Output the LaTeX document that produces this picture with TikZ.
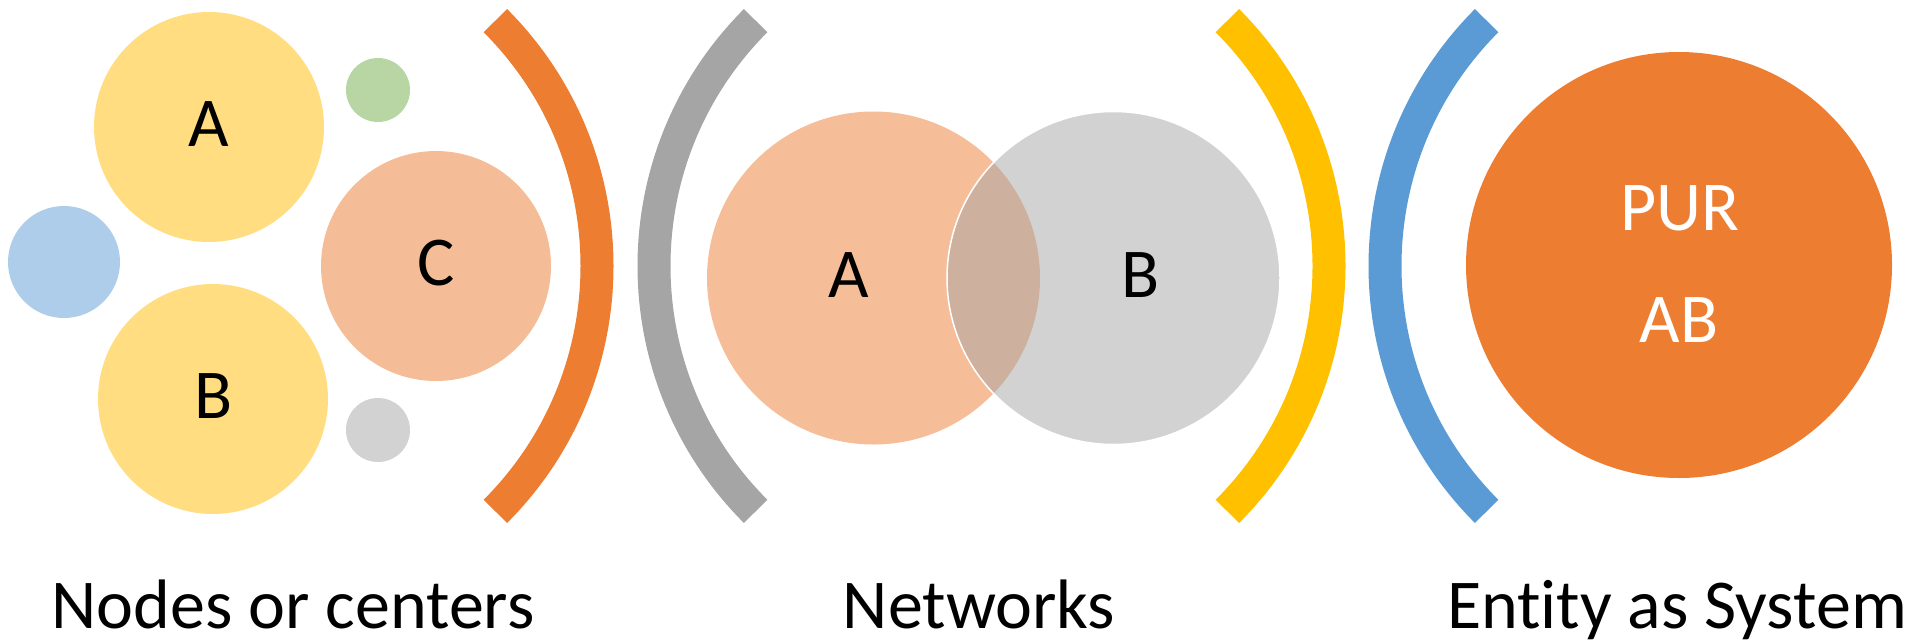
\documentclass[tikz,border=0pt]{standalone}
\usepackage{fontspec}
\setmainfont{Carlito}[Ligatures={NoCommon}]
\definecolor{orng}{HTML}{ED7D31}
\definecolor{gry}{HTML}{A5A5A5}
\definecolor{gld}{HTML}{FFC000}
\definecolor{blu}{HTML}{5B9BD5}
\definecolor{ylw}{HTML}{FFDD80}
\definecolor{slm}{HTML}{F5BD97}
\definecolor{lblu}{HTML}{ADCDEA}
\definecolor{lgrn}{HTML}{B8D6A3}
\definecolor{lgry}{HTML}{D2D2D2}
\tikzset{
  bubble/.style={circle, inner sep=0pt, outer sep=0pt, draw=none},
  txt/.style={font=\fontsize{70}{84}\selectfont, inner sep=0pt, anchor=base},
  band/.style={line width=33pt},
}
\begin{document}
\begin{tikzpicture}[x=1pt,y=-1pt]
\useasboundingbox (0,0) rectangle (1921,643);
% left group: nodes or centers
\node[bubble, fill=ylw, minimum size=230pt] (na) at (209,127) {};
\node[bubble, fill=ylw, minimum size=230pt] (nb) at (213,399) {};
\node[bubble, fill=slm, minimum size=230pt] (nc) at (436,266) {};
\node[bubble, fill=lblu, minimum size=112pt] (nblue) at (64,262) {};
\node[bubble, fill=lgrn, minimum size=64pt] (ngreen) at (378,90) {};
\node[bubble, fill=lgry, minimum size=64pt] (ngray) at (378,430) {};
\node[txt] (ta) at (209,146) {A};
\node[txt] (tb) at (214,418) {B};
\node[txt] (tc) at (436,285) {C};
% brackets
\coordinate (c1) at (250,266);
\coordinate (c2) at (1001,266);
\coordinate (c3) at (982,266);
\coordinate (c4) at (1732,266);
\draw[band, orng] ([shift={(45:347)}]c1) arc[start angle=45, end angle=-45, radius=347];
\draw[band, gry] ([shift={(135:347)}]c2) arc[start angle=135, end angle=225, radius=347];
\draw[band, gld] ([shift={(45:347)}]c3) arc[start angle=45, end angle=-45, radius=347];
\draw[band, blu] ([shift={(135:347)}]c4) arc[start angle=135, end angle=225, radius=347];
% networks (venn)
\node[bubble, fill=orng, fill opacity=0.5, minimum size=333pt] (va) at (873.5,278) {};
\node[bubble, fill=gry, fill opacity=0.5, draw=white, line width=1.5pt, minimum size=333pt] (vb) at (1113.5,278) {};
\node[txt] (tva) at (849,297) {A};
\node[txt] (tvb) at (1141,297) {B};
% entity as system
\node[bubble, fill=orng, minimum size=426pt] (es) at (1679,265) {};
\node[txt, text=white] (tpur) at (1680,230) {PUR};
\node[txt, text=white] (tab) at (1679,342) {AB};
% captions
\node[txt] (l1) at (293,628) {Nodes or centers};
\node[txt] (l2) at (979,628) {Networks};
\node[txt] (l3) at (1677,628) {Entity as System};
\end{tikzpicture}
\end{document}
